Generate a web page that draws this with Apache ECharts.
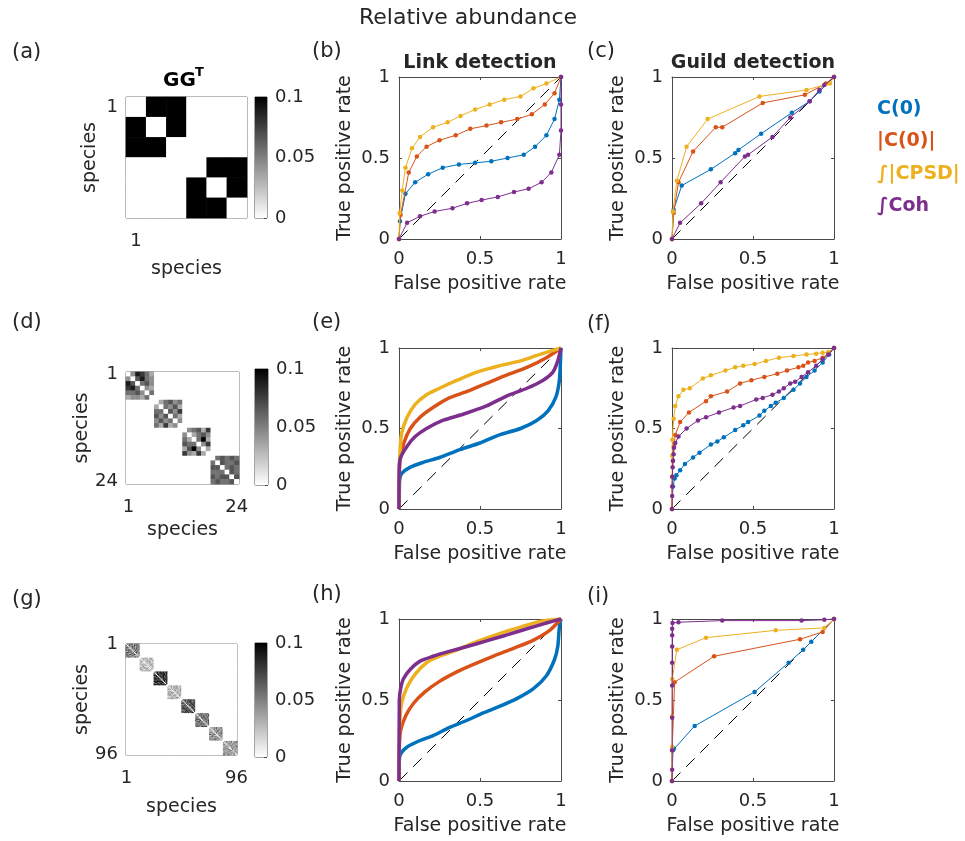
<!DOCTYPE html>
<html>
<head>
<meta charset="utf-8">
<script src="https://cdn.jsdelivr.net/npm/echarts@6/dist/echarts.min.js"></script>
<style>
html, body { margin: 0; padding: 0; background: #fff; }
#main { width: 965px; height: 841px; }
</style>
</head>
<body>
<div id="main"></div>
<script>
// method names and colours (MATLAB default order)
var methodNames = ['C(0)', '|C(0)|', '\u222B|CPSD|', '\u222BCoh'];
var methodColors = ['#0072BD', '#D95319', '#EDB120', '#7E2F8E'];
var rocTicks = [0, 0.5, 1];
var diagonal = [[0, 0], [1, 1]];

// (b) link detection, 6 species
var bC0 = [[0,0],[0.006,0.11],[0.04,0.28],[0.10,0.35],[0.18,0.40],[0.27,0.44],[0.37,0.46],[0.47,0.47],[0.57,0.48],[0.67,0.50],[0.77,0.52],[0.84,0.57],[0.91,0.64],[0.96,0.74],[0.99,0.86],[1,1]];
var bAbs = [[0,0],[0.01,0.15],[0.06,0.41],[0.11,0.51],[0.17,0.57],[0.25,0.61],[0.35,0.64],[0.44,0.68],[0.54,0.70],[0.63,0.72],[0.73,0.74],[0.82,0.77],[0.90,0.83],[0.96,0.90],[1,1]];
var bCpsd = [[0,0],[0.004,0.16],[0.02,0.30],[0.04,0.44],[0.08,0.56],[0.13,0.63],[0.21,0.69],[0.30,0.72],[0.38,0.76],[0.47,0.80],[0.56,0.83],[0.65,0.86],[0.75,0.88],[0.83,0.93],[0.91,0.96],[1,1]];
var bCoh = [[0,0],[0.05,0.10],[0.13,0.14],[0.22,0.17],[0.33,0.19],[0.42,0.22],[0.51,0.24],[0.61,0.26],[0.71,0.29],[0.80,0.31],[0.88,0.35],[0.94,0.41],[0.99,0.52],[1.0,0.67],[1.0,0.83],[1,1]];

// (c) guild detection, 6 species
var cC0 = [[0,0],[0.01,0.18],[0.06,0.33],[0.24,0.43],[0.39,0.53],[0.41,0.55],[0.55,0.65],[0.74,0.78],[0.85,0.85],[0.91,0.91],[1,1]];
var cAbs = [[0,0],[0.01,0.16],[0.04,0.35],[0.13,0.54],[0.27,0.69],[0.31,0.69],[0.56,0.84],[0.82,0.89],[0.95,0.96],[1,1]];
var cCpsd = [[0,0],[0.006,0.17],[0.03,0.36],[0.09,0.57],[0.22,0.74],[0.54,0.88],[0.83,0.92],[0.975,0.96],[1,1]];
var cCoh = [[0,0],[0.05,0.10],[0.18,0.22],[0.30,0.35],[0.45,0.51],[0.47,0.52],[0.62,0.63],[0.73,0.75],[0.85,0.85],[0.91,0.92],[0.94,0.95],[1,1]];

// (e) link detection, 24 species
var eC0 = [[0,0],[0.002,0.10],[0.004,0.18],[0.016,0.22],[0.07,0.26],[0.15,0.29],[0.25,0.32],[0.38,0.37],[0.50,0.41],[0.62,0.46],[0.75,0.50],[0.85,0.55],[0.92,0.61],[0.97,0.70],[0.99,0.80],[0.996,0.90],[1,1]];
var eAbs = [[0,0],[0.002,0.22],[0.006,0.30],[0.03,0.41],[0.07,0.50],[0.13,0.57],[0.21,0.63],[0.31,0.69],[0.42,0.73],[0.54,0.78],[0.66,0.83],[0.79,0.88],[0.91,0.94],[1,1]];
var eCpsd = [[0,0],[0.002,0.25],[0.006,0.35],[0.016,0.47],[0.05,0.57],[0.10,0.65],[0.17,0.71],[0.25,0.75],[0.36,0.80],[0.48,0.85],[0.62,0.89],[0.75,0.92],[0.87,0.96],[1,1]];
var eCoh = [[0,0],[0.002,0.26],[0.01,0.32],[0.05,0.39],[0.10,0.45],[0.17,0.50],[0.27,0.55],[0.40,0.59],[0.54,0.64],[0.66,0.70],[0.79,0.75],[0.89,0.80],[0.95,0.85],[0.98,0.92],[1,1]];

// (f) guild detection, 24 species
var fC0 = [[0,0],[0.006,0.14],[0.016,0.19],[0.027,0.21],[0.05,0.24],[0.08,0.28],[0.13,0.32],[0.17,0.35],[0.24,0.40],[0.28,0.42],[0.32,0.445],[0.39,0.49],[0.44,0.52],[0.47,0.54],[0.54,0.58],[0.57,0.61],[0.61,0.64],[0.64,0.66],[0.69,0.69],[0.75,0.74],[0.79,0.78],[0.83,0.82],[0.88,0.86],[0.93,0.91],[0.97,0.96],[1,1]];
var fAbs = [[0,0],[0.002,0.20],[0.006,0.30],[0.012,0.39],[0.02,0.46],[0.05,0.54],[0.105,0.60],[0.21,0.67],[0.24,0.70],[0.34,0.73],[0.42,0.78],[0.49,0.80],[0.57,0.82],[0.65,0.84],[0.71,0.86],[0.78,0.88],[0.81,0.89],[0.84,0.91],[0.88,0.92],[0.93,0.94],[0.965,0.965],[1,1]];
var fCpsd = [[0,0],[0.001,0.33],[0.002,0.43],[0.01,0.56],[0.02,0.64],[0.04,0.70],[0.07,0.74],[0.11,0.75],[0.19,0.81],[0.24,0.83],[0.33,0.86],[0.39,0.88],[0.44,0.89],[0.51,0.90],[0.58,0.92],[0.66,0.94],[0.75,0.95],[0.83,0.96],[0.89,0.965],[0.93,0.97],[0.965,0.975],[1,1]];
var fCoh = [[0,0],[0.001,0.08],[0.001,0.14],[0.002,0.20],[0.004,0.26],[0.006,0.30],[0.01,0.34],[0.012,0.38],[0.02,0.41],[0.04,0.45],[0.09,0.50],[0.16,0.55],[0.21,0.57],[0.29,0.60],[0.38,0.63],[0.42,0.64],[0.52,0.68],[0.56,0.69],[0.62,0.71],[0.66,0.73],[0.69,0.75],[0.73,0.78],[0.76,0.79],[0.80,0.82],[0.84,0.85],[0.89,0.89],[0.93,0.93],[0.965,0.96],[1,1]];

// (h) link detection, 96 species
var hC0 = [[0,0],[0.002,0.13],[0.012,0.17],[0.05,0.21],[0.13,0.25],[0.21,0.28],[0.31,0.33],[0.42,0.375],[0.52,0.42],[0.62,0.46],[0.73,0.51],[0.83,0.57],[0.91,0.65],[0.96,0.75],[0.98,0.83],[0.99,0.95],[1,1]];
var hAbs = [[0,0],[0.002,0.21],[0.01,0.31],[0.04,0.40],[0.09,0.48],[0.16,0.55],[0.25,0.615],[0.36,0.675],[0.46,0.72],[0.58,0.77],[0.71,0.82],[0.83,0.87],[0.93,0.93],[1,1]];
var hCpsd = [[0,0],[0.002,0.29],[0.006,0.38],[0.016,0.48],[0.05,0.58],[0.10,0.66],[0.17,0.73],[0.25,0.77],[0.36,0.81],[0.48,0.86],[0.62,0.91],[0.75,0.95],[0.87,0.985],[1,1]];
var hCoh = [[0,0],[0.001,0.25],[0.002,0.50],[0.01,0.57],[0.027,0.63],[0.07,0.69],[0.13,0.74],[0.21,0.77],[0.31,0.80],[0.42,0.83],[0.54,0.865],[0.66,0.90],[0.79,0.94],[0.91,0.975],[1,1]];

// (i) guild detection, 96 species
var iC0 = [[0,0],[0.006,0.19],[0.012,0.20],[0.14,0.34],[0.51,0.55],[0.72,0.73],[0.81,0.81],[0.86,0.86],[1,1]];
var iAbs = [[0,0],[0.001,0.19],[0.016,0.61],[0.26,0.77],[0.79,0.875],[0.93,0.92],[1,1]];
var iCpsd = [[0,0],[0.001,0.21],[0.001,0.40],[0.002,0.63],[0.03,0.81],[0.21,0.885],[0.64,0.93],[0.94,0.945],[1,1]];
var iCoh = [[0,0],[0.001,0.07],[0.001,0.19],[0.001,0.39],[0.001,0.59],[0.001,0.73],[0.001,0.83],[0.001,0.90],[0.001,0.94],[0.003,0.975],[0.04,0.98],[0.31,0.99],[0.80,0.99],[0.94,0.995],[1,1]];

// GG^T blocks: upper triangle of each guild block, digit d -> d/9 * 0.1
var aBlocks = [['99', '9'], ['99', '9']];
var dBlocks = [
  ['48753', '6854', '564', '43', '5'],
  ['35645', '5463', '647', '53', '4'],
  ['45637', '3564', '593', '47', '3'],
  ['56565', '6556', '565', '65', '6']
];
var gBlocks = [
  ['53647254635', '4635274563', '527463546', '36452735', '5463725', '427364', '63542', '4736', '526', '43', '6'],
  ['23142312431', '2413213241', '321423124', '13242312', '2314213', '312423', '21432', '3124', '213', '42', '1'],
  ['76958768579', '6857968759', '795867958', '68579687', '7968579', '869758', '58697', '7968', '859', '67', '9'],
  ['32413243123', '2314324132', '413243213', '32413234', '2431324', '314232', '24313', '3142', '243', '31', '2'],
  ['65746857465', '5746586475', '647586547', '75648576', '6475867', '576485', '46758', '5864', '476', '58', '6'],
  ['45364735463', '3647354637', '546373546', '36475364', '4736453', '354736', '63547', '4736', '536', '47', '3'],
  ['34253624352', '4253624352', '352436243', '25364253', '3624352', '425364', '24352', '3624', '352', '42', '3'],
  ['43524352435', '3524352435', '243524352', '52435243', '4352435', '243524', '35243', '5243', '432', '54', '3']
];
var colorbarTicks = [0, 0.05, 0.1];

var FONT = 'DejaVu Sans';
var TXT = '#262626';
var AX = '#4a4a4a';

var option = {
  animation: false,
  backgroundColor: '#ffffff',
  grid: [], xAxis: [], yAxis: [], series: [], visualMap: [], graphic: []
};

function blockMatrix(blocks) {
  var size = blocks[0].length + 1;
  var n = blocks.length * size;
  var data = [];
  var m = [];
  for (var r = 0; r < n; r++) { m.push(new Array(n).fill(0)); }
  blocks.forEach(function(b, bi) {
    var off = bi * size;
    b.forEach(function(str, i) {
      for (var k = 0; k < str.length; k++) {
        var j = i + 1 + k;
        var v = (+str[k]) / 9 * 0.1;
        m[off + i][off + j] = v;
        m[off + j][off + i] = v;
      }
    });
  });
  for (var i = 0; i < n; i++) for (var j = 0; j < n; j++) data.push([j, i, m[i][j]]);
  return { n: n, data: data };
}

function addHeat(box, cb, blocks, showLast, xNameGap) {
  var hm = blockMatrix(blocks);
  var n = hm.n;
  var cats = [];
  for (var i = 1; i <= n; i++) cats.push(String(i));
  var showIdx = function(idx) { return idx === 0 || (showLast && idx === n - 1); };
  var g = option.grid.length;
  option.grid.push({ left: box[0], top: box[1], width: box[2], height: box[3], show: true, borderColor: AX, borderWidth: 1 });
  var xi = option.xAxis.length, yi = option.yAxis.length;
  option.xAxis.push({
    gridIndex: g, type: 'category', data: cats, position: 'bottom',
    name: 'species', nameLocation: 'middle', nameGap: xNameGap,
    nameTextStyle: { fontFamily: FONT, fontSize: 19, color: TXT },
    axisLine: { show: false },
    axisTick: { show: true, inside: true, length: 3, alignWithLabel: true, interval: showIdx, lineStyle: { color: AX } },
    axisLabel: { interval: showIdx, margin: 14, fontFamily: FONT, fontSize: 18, color: TXT },
    splitLine: { show: false }
  });
  option.yAxis.push({
    gridIndex: g, type: 'category', data: cats, inverse: true, position: 'left',
    name: 'species', nameLocation: 'middle', nameGap: 26,
    nameTextStyle: { fontFamily: FONT, fontSize: 19, color: TXT },
    axisLine: { show: false },
    axisTick: { show: true, inside: true, length: 3, alignWithLabel: true, interval: showIdx, lineStyle: { color: AX } },
    axisLabel: { interval: showIdx, margin: 8, fontFamily: FONT, fontSize: 18, color: TXT },
    splitLine: { show: false }
  });
  var si = option.series.length;
  option.series.push({
    type: 'heatmap', xAxisIndex: xi, yAxisIndex: yi, data: hm.data,
    progressive: 0, silent: true, emphasis: { disabled: true }
  });
  option.visualMap.push({
    type: 'continuous', show: false, min: 0, max: 0.1, seriesIndex: si, dimension: 2,
    inRange: { color: ['#ffffff', '#000000'] }
  });

  // colorbar
  var cg = option.grid.length;
  option.grid.push({ left: cb[0], top: cb[1], width: cb[2], height: cb[3], show: true, borderColor: AX, borderWidth: 1 });
  var cxi = option.xAxis.length, cyi = option.yAxis.length;
  option.xAxis.push({ gridIndex: cg, type: 'category', data: [''], show: false });
  option.yAxis.push({
    gridIndex: cg, type: 'value', position: 'right',
    min: colorbarTicks[0], max: colorbarTicks[2], interval: colorbarTicks[1],
    axisLine: { show: false },
    axisTick: { show: true, inside: true, length: 3, lineStyle: { color: AX } },
    axisLabel: { margin: 8, fontFamily: FONT, fontSize: 18, color: TXT },
    splitLine: { show: false }
  });
  option.series.push({
    type: 'bar', xAxisIndex: cxi, yAxisIndex: cyi, data: [colorbarTicks[2]], barWidth: '100%', silent: true,
    itemStyle: { color: new echarts.graphic.LinearGradient(0, 0, 0, 1, [{ offset: 0, color: '#000000' }, { offset: 1, color: '#ffffff' }]) }
  });
}

function rocAxis(g, pos, main, name) {
  var vertical = (pos === 'left' || pos === 'right');
  var ax = {
    gridIndex: g, type: 'value', position: pos, min: rocTicks[0], max: rocTicks[2], interval: rocTicks[1],
    axisLine: { show: true, onZero: false, lineStyle: { color: AX, width: 1 } },
    axisTick: { show: true, inside: true, length: 3, lineStyle: { color: AX } },
    axisLabel: { show: main, margin: vertical ? 9 : 11, fontFamily: FONT, fontSize: 18, color: TXT },
    splitLine: { show: false }
  };
  if (main) {
    ax.name = name;
    ax.nameLocation = 'middle';
    ax.nameGap = vertical ? 44 : 36;
    ax.nameTextStyle = { fontFamily: FONT, fontSize: 19, color: TXT };
  }
  return ax;
}

function addRoc(box, curves, dense) {
  var g = option.grid.length;
  option.grid.push({ left: box[0], top: box[1], width: box[2], height: box[3] });
  var xi = option.xAxis.length, yi = option.yAxis.length;
  option.xAxis.push(rocAxis(g, 'bottom', true, 'False positive rate'), rocAxis(g, 'top', false));
  option.yAxis.push(rocAxis(g, 'left', true, 'True positive rate'), rocAxis(g, 'right', false));
  option.series.push({
    type: 'line', xAxisIndex: xi, yAxisIndex: yi, data: diagonal, symbol: 'none', silent: true, z: 1,
    lineStyle: { color: '#000000', width: 1, type: [12, 8] }
  });
  curves.forEach(function(c, k) {
    var s = {
      type: 'line', name: methodNames[k], xAxisIndex: xi, yAxisIndex: yi, data: c, clip: false, silent: true, z: 2 + k,
      itemStyle: { color: methodColors[k] }
    };
    if (dense) {
      s.symbol = 'none';
      s.smooth = 0.25;
      s.lineStyle = { color: methodColors[k], width: 3.5 };
    } else {
      s.symbol = 'circle';
      s.symbolSize = 4.5;
      s.lineStyle = { color: methodColors[k], width: 1 };
    }
    option.series.push(s);
  });
}

// heatmaps and colorbars
addHeat([126, 97, 121, 121], [255, 97, 12, 121], aBlocks, false, 42);
addHeat([126, 372, 113, 112], [255, 369, 13, 116], dBlocks, true, 37);
addHeat([126, 644, 111, 111], [255, 643, 12, 114], gBlocks, true, 43);

// ROC panels
addRoc([399, 77, 162, 162], [bC0, bAbs, bCpsd, bCoh], false);
addRoc([672, 77, 162, 162], [cC0, cAbs, cCpsd, cCoh], false);
addRoc([399, 348, 162, 161], [eC0, eAbs, eCpsd, eCoh], true);
addRoc([672, 348, 162, 161], [fC0, fAbs, fCpsd, fCoh], false);
addRoc([399, 619, 162, 162], [hC0, hAbs, hCpsd, hCoh], true);
addRoc([672, 619, 162, 162], [iC0, iAbs, iCpsd, iCoh], false);

function txt(x, y, text, size, opts) {
  opts = opts || {};
  return {
    type: 'text', x: x, y: y, silent: true,
    style: {
      text: text, fontFamily: FONT, fontSize: size, fontWeight: opts.bold ? 'bold' : 'normal',
      fill: opts.color || TXT, align: opts.align || 'center', verticalAlign: 'middle'
    }
  };
}

option.graphic.push(txt(468, 18, 'Relative abundance', 22));
var panelLabels = [['(a)', 12, 53], ['(b)', 312, 52], ['(c)', 587, 52], ['(d)', 12, 323], ['(e)', 312, 323], ['(f)', 587, 325], ['(g)', 12, 600], ['(h)', 312, 595], ['(i)', 587, 597]];
panelLabels.forEach(function(p) { option.graphic.push(txt(p[1], p[2], p[0], 21, { align: 'left' })); });
option.graphic.push(txt(480, 63, 'Link detection', 19, { bold: true }));
option.graphic.push(txt(753, 63, 'Guild detection', 19, { bold: true }));
option.graphic.push(txt(163, 81, 'GG', 20, { bold: true, color: '#000', align: 'left' }));
option.graphic.push(txt(195, 73, 'T', 13, { bold: true, color: '#000', align: 'left' }));
var legendY = [109, 141, 174, 206];
methodNames.forEach(function(nm, k) {
  option.graphic.push(txt(877, legendY[k], nm, 19, { bold: true, color: methodColors[k], align: 'left' }));
});

var chart = echarts.init(document.getElementById('main'), null, { renderer: 'canvas' });
chart.setOption(option);
</script>
</body>
</html>
